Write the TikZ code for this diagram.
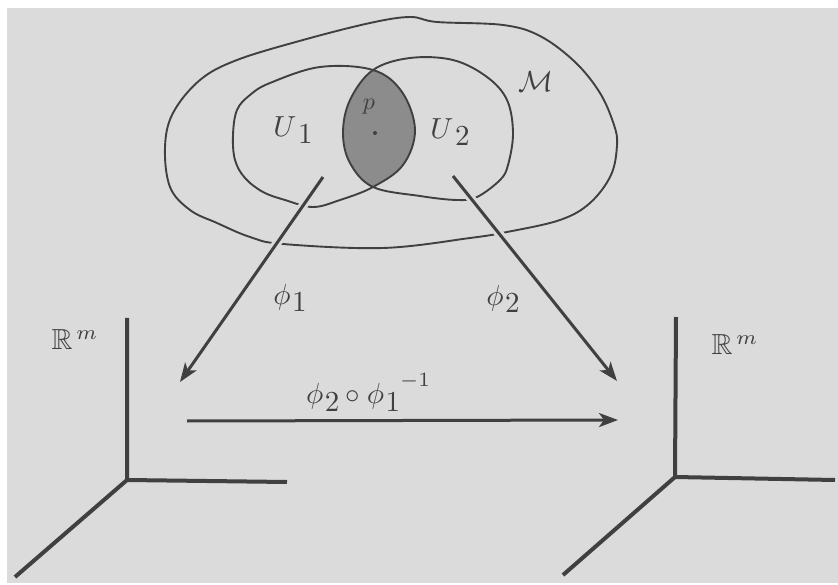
\documentclass[tikz,border=0pt]{standalone}
\usepackage{amssymb}
\usetikzlibrary{arrows.meta,calc}
\definecolor{bg}{gray}{0.86}
\definecolor{ink}{gray}{0.25}
\definecolor{lens}{gray}{0.55}
\newcommand{\bt}[1]{\scalebox{2.9}{#1}}
\newcommand{\dsub}[1]{\mskip1mu\raisebox{-2.6pt}{$#1$}}
\tikzset{
  curve/.style={draw=ink,line width=1.9pt},
  mapar/.style={draw=ink,line width=3pt,-{Stealth[length=19pt,width=14pt,inset=5pt]},
    preaction={draw=bg,line width=9pt,-}},
  axis/.style={draw=ink,line width=4pt,line join=miter},
  lbl/.style={text=ink,inner sep=0pt}
}
\begin{document}
\begin{tikzpicture}[x=1pt,y=-1pt]
\useasboundingbox (0,0) rectangle (838,585);
\fill[bg] (7,8) rectangle (838,583);
% lens fill
\begin{scope}
\clip plot[smooth cycle,tension=0.6] coordinates {(233,135) (237,110) (250,95) (270,83) (320,67) (373,70) (402,92) (415,130) (403,165) (373,187) (340,200) (313,207) (285,200) (263,192) (245,178) (235,160)};
\fill[lens] plot[smooth cycle,tension=0.6] coordinates {(373,70) (410,58) (453,60) (487,77) (507,100) (513,133) (508,165) (500,180) (477,197) (457,200) (420,196) (373,187) (350,163) (343,133) (350,100)};
\end{scope}
% outer M
\draw[curve] plot[smooth cycle,tension=0.6] coordinates {(410,17) (437,22) (503,25) (540,36) (575,62) (600,93) (614,125) (617,145) (611,175) (590,203) (560,220) (507,232) (470,238) (383,248) (283,244) (250,237) (217,223) (190,210) (170,187) (165,147) (173,113) (200,80) (237,60) (303,40) (370,23)};
% U1
\draw[curve] plot[smooth cycle,tension=0.6] coordinates {(233,135) (237,110) (250,95) (270,83) (320,67) (373,70) (402,92) (415,130) (403,165) (373,187) (340,200) (313,207) (285,200) (263,192) (245,178) (235,160)};
% U2
\draw[curve] plot[smooth cycle,tension=0.6] coordinates {(373,70) (410,58) (453,60) (487,77) (507,100) (513,133) (508,165) (500,180) (477,197) (457,200) (420,196) (373,187) (350,163) (343,133) (350,100)};
% labels
\node[lbl] (M) at (536,82) {\bt{$\mathcal{M}$}};
\node[lbl] (U1) at (293,130) {\bt{$U\dsub{1}$}};
\node[lbl] (U2) at (450,132) {\bt{$U\dsub{2}$}};
\node[lbl] (p) at (369,107) {\scalebox{2.4}{$p$}};
\fill[ink] (375,133) circle (2pt) coordinate (pt);
% axes
\coordinate (o1) at (127,480); \coordinate (o1y) at (127,318);
\coordinate (o1x) at (287,482); \coordinate (o1d) at (15,577);
\coordinate (o2) at (675,477); \coordinate (o2y) at (676,317);
\coordinate (o2x) at (835,480); \coordinate (o2d) at (563,575);
\draw[axis] (o1y) -- (o1) -- (o1x);
\draw[axis] (o1) -- (o1d);
\draw[axis] (o2y) -- (o2) -- (o2x);
\draw[axis] (o2) -- (o2d);
\node[lbl] (R1) at (75,340) {\bt{$\mathbb{R}^{\,m}$}};
\node[lbl] (R2) at (735,345) {\bt{$\mathbb{R}^{\,m}$}};
% maps
\coordinate (a1s) at (323,177); \coordinate (a1e) at (180,382);
\coordinate (a2s) at (453,176); \coordinate (a2e) at (617,381);
\coordinate (a3s) at (187,421); \coordinate (a3e) at (618,420);
\draw[mapar] (a1s) -- (a1e);
\draw[mapar] (a2s) -- (a2e);
\draw[mapar] (a3s) -- (a3e);
\node[lbl] (f1) at (290,298) {\bt{$\phi\dsub{1}$}};
\node[lbl] (f2) at (503,299) {\bt{$\phi\dsub{2}$}};
\node[lbl] (f21) at (368,392) {\bt{$\phi\dsub{2}\circ\phi\dsub{1}\raisebox{6pt}{$\scriptstyle -1$}$}};
\end{tikzpicture}
\end{document}
